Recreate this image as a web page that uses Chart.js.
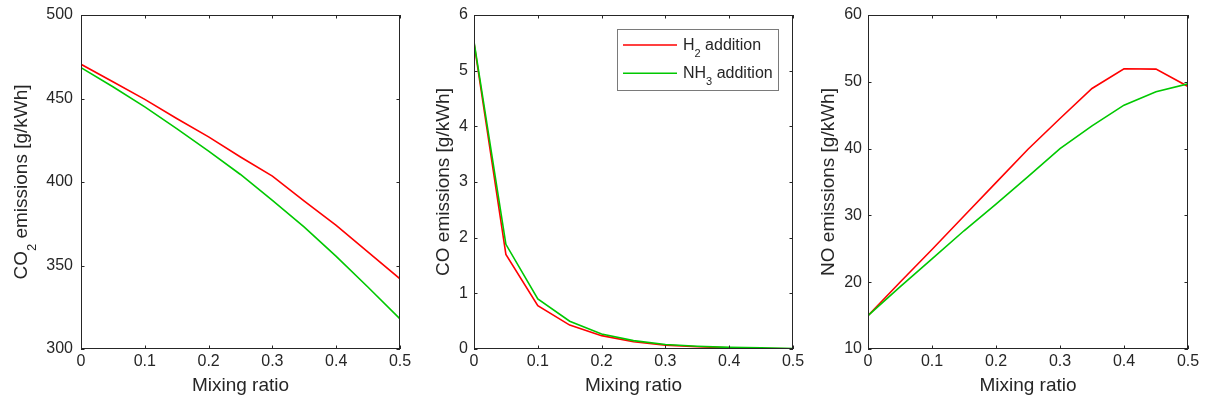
<!DOCTYPE html>
<html>
<head>
<meta charset="utf-8">
<script src="https://cdn.jsdelivr.net/npm/chart.js@4.4.1/dist/chart.umd.min.js"></script>
<style>
  html, body { margin: 0; padding: 0; background: #fff; }
  #wrap { position: relative; width: 1205px; height: 409px; overflow: hidden; }
  .panel { position: absolute; top: 0; height: 409px; }
</style>
</head>
<body>
<div id="wrap">
  <div class="panel" style="left:0;width:420px"><canvas id="co2" width="420" height="409"></canvas></div>
  <div class="panel" style="left:405px;width:415px"><canvas id="co" width="415" height="409"></canvas></div>
  <div class="panel" style="left:805px;width:400px"><canvas id="no" width="400" height="409"></canvas></div>
</div>
<script>
// mixing ratio steps shared by all three panels
const mixing = [0, 0.05, 0.1, 0.15, 0.2, 0.25, 0.3, 0.35, 0.4, 0.45, 0.5];

const co2H2  = [470.5, 460, 449.5, 438, 427, 415, 403.5, 388.5, 374, 358, 342];
const co2NH3 = [468.5, 457, 445, 432, 418.5, 404.5, 389, 373, 355.5, 337, 318];

const coH2  = [5.5, 1.7, 0.78, 0.43, 0.24, 0.13, 0.07, 0.04, 0.02, 0.01, 0.005];
const coNH3 = [5.52, 1.88, 0.9, 0.5, 0.27, 0.15, 0.08, 0.05, 0.03, 0.02, 0.01];

const noH2  = [15, 20, 24.9, 29.9, 34.9, 39.9, 44.5, 49, 51.95, 51.9, 49.3];
const noNH3 = [15, 19.3, 23.5, 27.7, 31.7, 35.8, 40, 43.4, 46.5, 48.5, 49.7];

const RED = '#ff0000';
const GREEN = '#00c800';
const INK = '#262626';
const FONT = '"Liberation Sans", Arial, Helvetica, sans-serif';

// text with TeX-like subscripts: parts = [[text, isSub], ...]
function richWidth(ctx, parts, size) {
  let w = 0;
  parts.forEach(([t, sub]) => {
    ctx.font = `${sub ? Math.round(size * 0.7) : size}px ${FONT}`;
    w += ctx.measureText(t).width;
  });
  return w;
}
function drawRich(ctx, parts, x, y, size) {
  ctx.textBaseline = 'alphabetic';
  ctx.textAlign = 'left';
  parts.forEach(([t, sub]) => {
    ctx.font = `${sub ? Math.round(size * 0.7) : size}px ${FONT}`;
    ctx.fillText(t, x, sub ? y + size * 0.47 : y);
    x += ctx.measureText(t).width;
  });
}

// MATLAB style frame: full box, inward ticks, axis titles, optional legend
const framePlugin = {
  id: 'frame',
  afterDraw(chart, args, o) {
    const { ctx, chartArea: a, scales: { x, y } } = chart;
    ctx.save();
    ctx.strokeStyle = INK;
    ctx.lineWidth = 1;
    ctx.strokeRect(Math.round(a.left) + 0.5, Math.round(a.top) + 0.5,
      Math.round(a.right - a.left) - 1, Math.round(a.bottom - a.top) - 1);
    const tl = 3.5;
    ctx.beginPath();
    x.ticks.forEach(t => {
      const px = Math.round(x.getPixelForValue(t.value)) + 0.5;
      ctx.moveTo(px, a.bottom); ctx.lineTo(px, a.bottom - tl);
      ctx.moveTo(px, a.top); ctx.lineTo(px, a.top + tl);
    });
    y.ticks.forEach(t => {
      const py = Math.round(y.getPixelForValue(t.value)) + 0.5;
      ctx.moveTo(a.left, py); ctx.lineTo(a.left + tl, py);
      ctx.moveTo(a.right, py); ctx.lineTo(a.right - tl, py);
    });
    ctx.stroke();

    ctx.fillStyle = INK;
    // x title
    const xw = richWidth(ctx, [['Mixing ratio']], 19);
    drawRich(ctx, [['Mixing ratio']], (a.left + a.right) / 2 - xw / 2, 391, 19);
    // y title, rotated
    const yw = richWidth(ctx, o.yTitle, 19);
    ctx.save();
    ctx.translate(o.yTitleX, (a.top + a.bottom) / 2);
    ctx.rotate(-Math.PI / 2);
    drawRich(ctx, o.yTitle, -yw / 2, 0, 19);
    ctx.restore();

    if (o.legend) {
      const L = o.legend;
      ctx.fillStyle = '#fff';
      ctx.fillRect(L.x, L.y, L.w, L.h);
      ctx.strokeStyle = '#7a7a7a';
      ctx.strokeRect(L.x + 0.5, L.y + 0.5, L.w - 1, L.h - 1);
      L.items.forEach((it, i) => {
        const ly = L.y + 16 + i * 28.3;
        ctx.strokeStyle = it.color;
        ctx.lineWidth = 1.6;
        ctx.beginPath();
        ctx.moveTo(L.x + 6, ly); ctx.lineTo(L.x + 60, ly);
        ctx.stroke();
        ctx.fillStyle = INK;
        drawRich(ctx, it.label, L.x + 66, ly + 4.6, 16);
      });
    }
    ctx.restore();
  }
};

function makePanel(id, h2, nh3, yMin, yMax, yStep, opt) {
  const pts = arr => arr.map((v, i) => ({ x: mixing[i], y: v }));
  return new Chart(document.getElementById(id), {
    type: 'line',
    data: {
      datasets: [
        { label: 'H2 addition', data: pts(h2), borderColor: RED, borderWidth: 1.6, pointRadius: 0, tension: 0, order: 1 },
        { label: 'NH3 addition', data: pts(nh3), borderColor: GREEN, borderWidth: 1.6, pointRadius: 0, tension: 0, order: 0 }
      ]
    },
    options: {
      responsive: false,
      animation: false,
      events: [],
      layout: { padding: { top: 15, right: opt.padRight, bottom: 0, left: 0 } },
      plugins: {
        legend: { display: false },
        tooltip: { enabled: false },
        frame: { yTitle: opt.yTitle, yTitleX: opt.yTitleX, legend: opt.legend }
      },
      scales: {
        x: {
          type: 'linear', min: 0, max: 0.5,
          ticks: { stepSize: 0.1, color: INK, font: { family: FONT, size: 16 }, padding: 3, maxRotation: 0 },
          grid: { display: false, drawTicks: false },
          border: { display: false },
          afterFit(s) { s.height = 60; s.paddingLeft = 0; s.paddingRight = 0; }
        },
        y: {
          min: yMin, max: yMax,
          ticks: { stepSize: yStep, color: INK, font: { family: FONT, size: 16 }, padding: opt.labelPad },
          grid: { display: false, drawTicks: false },
          border: { display: false },
          afterFit(s) { s.width = opt.axisWidth; s.paddingTop = 0; s.paddingBottom = 0; }
        }
      }
    },
    plugins: [framePlugin]
  });
}

makePanel('co2', co2H2, co2NH3, 300, 500, 50, {
  padRight: 20, axisWidth: 81, labelPad: 8, yTitleX: 27,
  yTitle: [['CO'], ['2', true], [' emissions [g/kWh]']]
});
makePanel('co', coH2, coNH3, 0, 6, 1, {
  padRight: 27, axisWidth: 69, labelPad: 6, yTitleX: 43.6,
  yTitle: [['CO emissions [g/kWh]']],
  legend: {
    x: 212, y: 29, w: 162, h: 62,
    items: [
      { color: RED, label: [['H'], ['2', true], [' addition']] },
      { color: GREEN, label: [['NH'], ['3', true], [' addition']] }
    ]
  }
});
makePanel('no', noH2, noNH3, 10, 60, 10, {
  padRight: 17, axisWidth: 63, labelPad: 6, yTitleX: 28.6,
  yTitle: [['NO emissions [g/kWh]']]
});
</script>
</body>
</html>
